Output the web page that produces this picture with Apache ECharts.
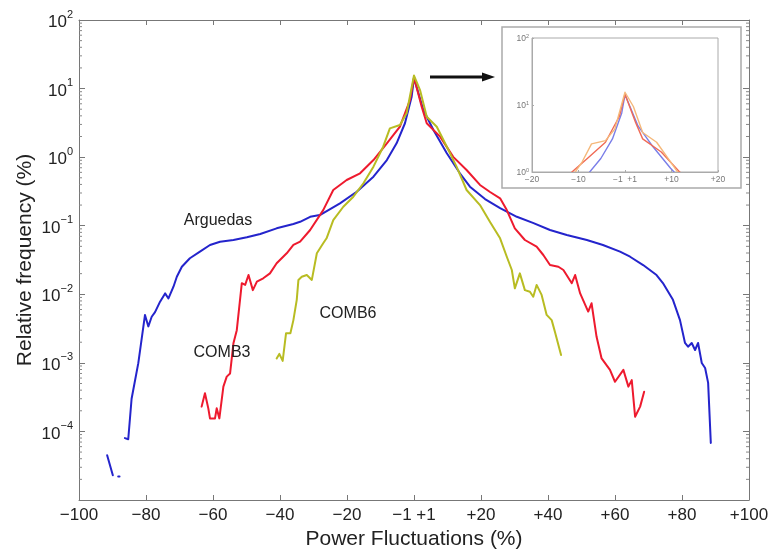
<!DOCTYPE html>
<html><head><meta charset="utf-8">
<script src="https://cdn.jsdelivr.net/npm/echarts@6/dist/echarts.min.js"></script>
<style>html,body{margin:0;padding:0;background:#fff}#c{width:773px;height:557px}</style>
</head><body><div id="c"></div>
<script>
// ---- tick labels ----
const xTicks = [-100,-80,-60,-40,-20,0,20,40,60,80,100];
const xTickLabels = ['\u2212100','\u221280','\u221260','\u221240','\u221220','\u22121 +1','+20','+40','+60','+80','+100'];
const insetXTicks = [-20,-10,0,10,20];
const insetXTickLabels = ['\u221220','\u221210','\u22121  +1','+10','+20'];
const yDecades = [-5,-4,-3,-2,-1,0,1,2];

// ---- series: [power fluctuation %, relative frequency %] ----
const arguedas = [[-91.6,4.5e-5],[-89.9,2.3e-5],[-89.0,'-'],[-88.3,2.2e-5],[-87.9,2.2e-5],[-87.2,'-'],
 [-86.3,8.0e-5],[-85.3,7.7e-5],[-84.3,3.0e-4],[-82.3,9.9e-4],[-80.3,5.0e-3],[-79.3,3.4e-3],[-78.3,4.7e-3],
 [-77.3,5.5e-3],[-75.8,7.8e-3],[-74.3,0.0103],[-73.3,8.7e-3],[-71.8,0.0129],[-70.8,0.018],[-69.3,0.0252],
 [-66.9,0.0335],[-63.9,0.0418],[-60.9,0.0524],[-57.9,0.0585],[-53.9,0.0619],[-49.9,0.0678],[-45.9,0.0757],
 [-41.0,0.0916],[-36.0,0.106],[-34.0,0.114],[-31.0,0.135],[-28.1,0.143],[-22.1,0.212],[-17.1,0.313],
 [-12.1,0.519],[-8.1,0.908],[-5.2,1.59],[-2.7,3.12],[-0.7,7.6],[0,14.3],[2.8,4.87],[5.8,2.49],[9.8,1.14],
 [13.7,0.581],[16.7,0.371],[21.2,0.245],[25.7,0.180],[30.7,0.135],[35.5,0.110],[40.6,0.0866],[45.6,0.0733],
 [51.6,0.0619],[56.4,0.0524],[61.5,0.0418],[64.5,0.0353],[68.4,0.0267],[72.4,0.0191],[74.3,0.0146],
 [77.3,8.3e-3],[79.4,4.2e-3],[80.9,1.95e-3],[81.8,1.72e-3],[82.9,1.95e-3],[83.9,1.54e-3],[84.8,1.95e-3],
 [85.9,9.95e-4],[86.9,8.4e-4],[87.8,5.1e-4],[88.6,6.8e-5]];
const comb3 = [[-63.4,2.3e-4],[-62.4,3.6e-4],[-61.4,2.17e-4],[-60.9,1.55e-4],[-59.4,1.55e-4],[-58.9,2.17e-4],
 [-58.1,1.55e-4],[-56.9,4.5e-4],[-55.9,6.3e-4],[-54.9,7.0e-4],[-53.9,1.93e-3],[-52.9,3.0e-3],[-51.4,0.0145],
 [-50.4,0.0137],[-49.4,0.0191],[-48.1,0.0115],[-46.9,0.0153],[-45.0,0.0171],[-43.0,0.0202],[-41.0,0.0283],
 [-38.0,0.0396],[-36.0,0.0524],[-34.0,0.0585],[-31.0,0.0866],[-27.1,0.169],[-24.1,0.332],[-20.1,0.464],
 [-16.1,0.581],[-12.1,0.908],[-8.1,1.59],[-4.2,2.78],[-1.2,6.8],[0,14.5],[2.3,5.44],[3.8,3.12],[7.8,1.99],
 [11.7,1.01],[15.7,0.649],[19.7,0.393],[22.7,0.310],[25.7,0.251],[27.7,0.169],[30.1,0.0916],[33.1,0.0619],
 [36.6,0.0494],[38.6,0.0374],[40.6,0.0267],[43.1,0.0252],[44.6,0.0226],[47.1,0.0145],[48.1,0.0191],
 [49.6,0.0103],[52.0,5.6e-3],[53.0,7.4e-3],[54.5,2.4e-3],[56.0,1.16e-3],[58.5,7.9e-4],[60.0,5.3e-4],
 [62.5,7.9e-4],[64.0,4.5e-4],[65.0,5.6e-4],[66.0,1.64e-4],[67.5,2.3e-4],[68.7,3.8e-4]];
const comb6 = [[-41.0,1.16e-3],[-40.2,1.35e-3],[-39.2,1.07e-3],[-38.2,2.7e-3],[-36.9,2.7e-3],[-36.0,4.2e-3],
 [-35.0,8.3e-3],[-34.5,0.0162],[-33.5,0.018],[-32.0,0.0191],[-30.5,0.0162],[-29.0,0.0396],[-27.1,0.0554],
 [-26.1,0.0655],[-24.1,0.121],[-21.1,0.189],[-18.1,0.265],[-15.1,0.416],[-12.1,0.726],[-9.2,1.42],
 [-7.2,2.63],[-4.2,2.94],[-2.2,4.36],[0,15.5],[1.8,9.5],[3.8,3.89],[6.8,2.78],[9.8,1.42],[12.7,0.726],
 [15.7,0.332],[19.7,0.200],[22.7,0.113],[25.7,0.0655],[27.7,0.0353],[29.2,0.0226],[30.1,0.0122],
 [31.6,0.0202],[33.1,0.0115],[34.6,0.0109],[35.6,9.2e-3],[36.6,0.0137],[38.1,9.8e-3],[39.6,5.0e-3],
 [41.1,4.2e-3],[42.1,2.8e-3],[43.9,1.3e-3]];

const FONT = '"Liberation Sans", Arial, Helvetica, sans-serif';
const minorVals = [];
for (let k = -5; k < 2; k++) for (let m = 2; m <= 9; m++) minorVals.push([-100, m * Math.pow(10, k)]);

function supLabel(v) {
  const e = Math.round(Math.log10(v));
  return '{b|10}{s|' + (e < 0 ? '\u2212' + (-e) : String(e)) + '}';
}
function lineSeries(name, data, color, xi, yi, w, z) {
  return {name, type:'line', data, xAxisIndex:xi, yAxisIndex:yi, showSymbol:false, symbol:'none',
    lineStyle:{color, width:w, cap:'round', join:'round'}, clip:true, silent:true, animation:false, z};
}

const chart = echarts.init(document.getElementById('c'), null, {renderer:'canvas'});
chart.setOption({
  backgroundColor:'#fff',
  animation:false,
  grid:[
    {left:79, top:20, width:670, height:480, show:false},
    {left:532, top:38, width:186, height:134, show:true, borderColor:'#aaa', borderWidth:1, backgroundColor:'#fff', z:5}
  ],
  xAxis:[
    {type:'value', gridIndex:0, min:-100, max:100, interval:20, position:'bottom',
     axisLine:{show:true, onZero:false, lineStyle:{color:'#777', width:1}},
     axisTick:{show:true, inside:true, length:5, lineStyle:{color:'#777'}},
     splitLine:{show:false},
     axisLabel:{margin:7, fontSize:17, color:'#222', fontFamily:FONT,
       formatter:v => { const i = xTicks.indexOf(Math.round(v)); return i >= 0 ? xTickLabels[i] : ''; }},
     name:'Power Fluctuations (%)', nameLocation:'middle', nameGap:29,
     nameTextStyle:{fontSize:21, color:'#222', fontFamily:FONT}},
    {type:'value', gridIndex:1, min:-20, max:20, interval:10, position:'bottom', z:12,
     axisLine:{show:true, onZero:false, lineStyle:{color:'#aaa'}},
     axisTick:{show:true, inside:true, length:2, lineStyle:{color:'#aaa'}},
     splitLine:{show:false},
     axisLabel:{margin:3, fontSize:8.5, color:'#777', fontFamily:FONT,
       formatter:v => { const i = insetXTicks.indexOf(Math.round(v)); return i >= 0 ? insetXTickLabels[i] : ''; }}},
    {type:'value', gridIndex:0, min:-100, max:100, interval:20, position:'top',
     axisLine:{show:true, onZero:false, lineStyle:{color:'#777', width:1}},
     axisTick:{show:true, inside:true, length:5, lineStyle:{color:'#777'}},
     axisLabel:{show:false}, splitLine:{show:false}}
  ],
  yAxis:[
    {type:'log', logBase:10, gridIndex:0, min:1e-5, max:100, position:'left',
     axisLine:{show:true, onZero:false, lineStyle:{color:'#777', width:1}},
     axisTick:{show:true, inside:true, length:6, lineStyle:{color:'#777'}},
     splitLine:{show:false},
     axisLabel:{margin:6, color:'#222', fontFamily:FONT,
       formatter:v => Math.round(Math.log10(v)) === -5 ? '' : supLabel(v),
       rich:{b:{fontSize:17, color:'#222', fontFamily:FONT, lineHeight:22, verticalAlign:'bottom'},
             s:{fontSize:11, color:'#222', fontFamily:FONT, lineHeight:12, verticalAlign:'top'}}}},
    {type:'log', logBase:10, gridIndex:1, min:1, max:100, position:'left', z:12,
     axisLine:{show:true, onZero:false, lineStyle:{color:'#aaa'}},
     axisTick:{show:true, inside:true, length:2, lineStyle:{color:'#aaa'}},
     splitLine:{show:false},
     axisLabel:{margin:3, color:'#777', fontFamily:FONT, formatter:supLabel,
       rich:{b:{fontSize:8.5, color:'#777', fontFamily:FONT, lineHeight:10, verticalAlign:'bottom'},
             s:{fontSize:5.5, color:'#777', fontFamily:FONT, lineHeight:6, verticalAlign:'top'}}}},
    {type:'log', logBase:10, gridIndex:0, min:1e-5, max:100, position:'right',
     axisLine:{show:true, onZero:false, lineStyle:{color:'#777', width:1}},
     axisTick:{show:true, inside:true, length:6, lineStyle:{color:'#777'}},
     axisLabel:{show:false}, splitLine:{show:false}}
  ],
  series:[
    {type:'custom', xAxisIndex:0, yAxisIndex:0, data:minorVals, silent:true, clip:false, z:1,
     renderItem:(params, api) => {
       const v = api.value(1);
       const pL = api.coord([-100, v]), pR = api.coord([100, v]);
       const st = {stroke:'#888', lineWidth:1};
       return {type:'group', children:[
         {type:'line', shape:{x1:pL[0], y1:pL[1], x2:pL[0]+3, y2:pL[1]}, style:st},
         {type:'line', shape:{x1:pR[0]-3, y1:pR[1], x2:pR[0], y2:pR[1]}, style:st}]};
     }},
    lineSeries('Arguedas', arguedas, '#2424cc', 0, 0, 2, 3),
    lineSeries('COMB3', comb3, '#ee1a2e', 0, 0, 2, 3),
    lineSeries('COMB6', comb6, '#b8bc22', 0, 0, 2, 3),
    lineSeries('Arguedas inset', arguedas, '#7a7ee8', 1, 1, 1.4, 10),
    lineSeries('COMB3 inset', comb3, '#f06a55', 1, 1, 1.4, 10),
    lineSeries('COMB6 inset', comb6, '#f5b87a', 1, 1, 1.4, 10)
  ],
  graphic:[
    {type:'rect', shape:{x:502, y:27, width:239, height:161}, style:{fill:'none', stroke:'#aaa', lineWidth:1.5}, z:0, silent:true},
    {type:'line', shape:{x1:430, y1:77, x2:485, y2:77}, style:{stroke:'#111', lineWidth:3}, z:6, silent:true},
    {type:'polygon', shape:{points:[[482,72.5],[495,77],[482,81.5]]}, style:{fill:'#111'}, z:6, silent:true},
    {type:'text', x:25, y:260, rotation:Math.PI/2, style:{text:'Relative frequency (%)', fill:'#222', font:'21px ' + FONT, textAlign:'center', textVerticalAlign:'middle'}, z:6, silent:true},
    {type:'text', x:218, y:221, style:{text:'Arguedas', fill:'#222', font:'16px ' + FONT, textAlign:'center', textVerticalAlign:'middle'}, z:6, silent:true},
    {type:'text', x:222, y:353, style:{text:'COMB3', fill:'#222', font:'16px ' + FONT, textAlign:'center', textVerticalAlign:'middle'}, z:6, silent:true},
    {type:'text', x:348, y:314, style:{text:'COMB6', fill:'#222', font:'16px ' + FONT, textAlign:'center', textVerticalAlign:'middle'}, z:6, silent:true}
  ]
});
</script>
</body></html>
